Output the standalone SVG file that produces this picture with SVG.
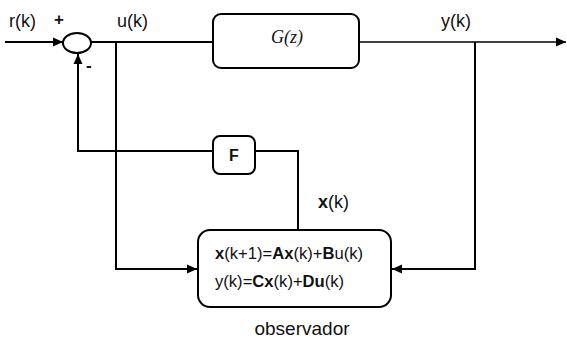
<svg xmlns="http://www.w3.org/2000/svg" width="567" height="343" viewBox="0 0 567 343">
<style>
.ln{fill:none;stroke:#000;stroke-width:2}
.box{fill:#fff;stroke:#000;stroke-width:2}
.t{font-family:"Liberation Sans",Arial,sans-serif;font-size:18px;fill:#111}
.eq{font-family:"Liberation Sans",Arial,sans-serif;font-size:16.6px;fill:#111}
.b{font-weight:bold}
</style>
<defs>
<marker id="ah" viewBox="0 0 10 10" refX="10" refY="5" markerWidth="10" markerHeight="10" markerUnits="userSpaceOnUse" orient="auto">
<path d="M0,0.5 L10,5 L0,9.5 Z" fill="#000"/>
</marker>
</defs>
<g id="connectors">
<path class="ln" d="M5,42 H63" marker-end="url(#ah)"/>
<path class="ln" d="M91,42 H213"/>
<path class="ln" style="stroke-width:1.5" d="M359,42 H566" marker-end="url(#ah)"/>
<path class="ln" d="M116,42 V269 H197" marker-end="url(#ah)"/>
<path class="ln" d="M475,42 V269 H392" marker-end="url(#ah)"/>
<path class="ln" d="M213,151 H78 V54" marker-end="url(#ah)"/>
<path class="ln" d="M255,151 H298 V230"/>
</g>
<g id="sum">
<ellipse class="box" cx="77" cy="43" rx="14" ry="10"/>
</g>
<g id="G">
<rect class="box" x="213" y="14" width="146" height="54" rx="8"/>
<text x="287" y="43" text-anchor="middle" style="font-family:'Liberation Serif',serif;font-style:italic;font-size:18px" fill="#111">G(z)</text>
</g>
<g id="F">
<rect class="box" x="213" y="136" width="42" height="38" rx="7"/>
<text class="t b" x="234" y="161" text-anchor="middle" style="font-size:16px">F</text>
</g>
<g id="observer">
<rect class="box" x="198" y="230" width="193" height="77" rx="12"/>
<text class="eq" x="215" y="259"><tspan class="b">x</tspan>(k+1)=<tspan class="b">Ax</tspan>(k)+<tspan class="b">B</tspan>u(k)</text>
<text class="eq" x="215" y="287">y(k)=<tspan class="b">Cx</tspan>(k)+<tspan class="b">Du</tspan>(k)</text>
</g>
<g id="labels">
<text class="t" x="9" y="27">r(k)</text>
<text class="t b" x="54" y="25" style="font-size:17px">+</text>
<text class="t b" x="86" y="71" style="font-size:17px">-</text>
<text class="t" x="117" y="27">u(k)</text>
<text class="t" x="441" y="27">y(k)</text>
<text class="t" x="318" y="208"><tspan class="b">x</tspan>(k)</text>
<text class="t" x="302" y="335" text-anchor="middle" style="font-size:19px">observador</text>
</g>
</svg>
